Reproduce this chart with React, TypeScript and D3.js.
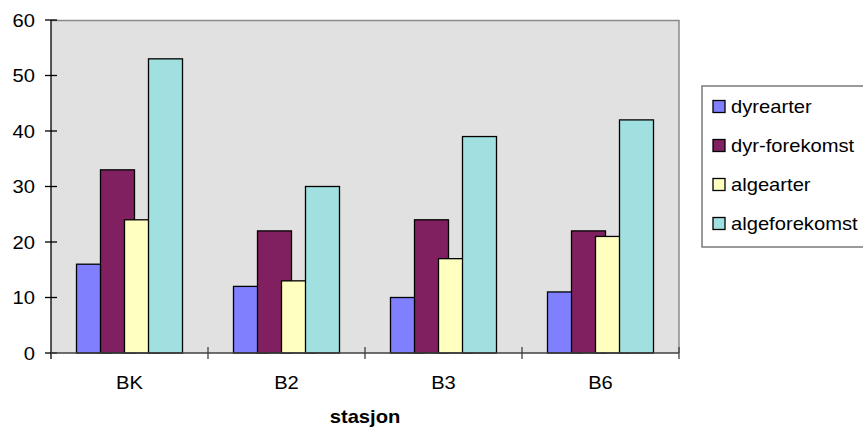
import React from 'react';
import * as d3 from 'd3';

const stations = ['BK', 'B2', 'B3', 'B6'];
const seriesNames = ['dyrearter', 'dyr-forekomst', 'algearter', 'algeforekomst'];
const dyrearter = [16, 12, 10, 11];
const dyrForekomst = [33, 22, 24, 22];
const algearter = [24, 13, 17, 21];
const algeforekomst = [53, 30, 39, 42];
const yTicks = [0, 10, 20, 30, 40, 50, 60];

const seriesValues = [dyrearter, dyrForekomst, algearter, algeforekomst];
const colors = ['#8080FF', '#802060', '#FFFFC0', '#A0E0E0'];

const WIDTH = 863;
const HEIGHT = 430;
const margin = { top: 20, right: 184, bottom: 77, left: 51 };
const FONT = 'Liberation Sans, Arial, sans-serif';

// Excel-style stretched text
function Label(props: {
  x: number;
  y: number;
  anchor?: 'start' | 'middle' | 'end';
  bold?: boolean;
  children: React.ReactNode;
}) {
  return (
    <g transform={`translate(${props.x},${props.y}) scale(1.12,1)`}>
      <text
        x={0}
        y={0}
        fontSize={18}
        fontFamily={FONT}
        fontWeight={props.bold ? 'bold' : 'normal'}
        textAnchor={props.anchor || 'start'}
        fill="#000"
      >
        {props.children}
      </text>
    </g>
  );
}

export default function App() {
  const chartW = WIDTH - margin.left - margin.right;
  const chartH = HEIGHT - margin.top - margin.bottom;

  const x0 = d3.scaleBand().domain(stations).range([0, chartW]).padding(0);
  // bars overlap: step of 24, width 34
  const groupOffset = (x0.bandwidth() - 106) / 2;
  const x1 = d3.scaleBand().domain(seriesNames).range([0, 96]).padding(0);
  const barW = (x1.bandwidth() * 34) / 24;

  const y = d3.scaleLinear().domain([0, 60]).range([chartH, 0]);

  const legendY = d3.scaleBand().domain(seriesNames).range([87, 243]);

  return (
    <svg
      width={WIDTH}
      height={HEIGHT}
      style={{ position: 'absolute', left: 0, top: 0 }}
      viewBox={`0 0 ${WIDTH} ${HEIGHT}`}
    >
      <rect x={0} y={0} width={WIDTH} height={HEIGHT} fill="#fff" />
      <g transform={`translate(${margin.left},${margin.top})`}>
        {/* plot area */}
        <rect x={0} y={0} width={chartW} height={chartH} fill="#E1E1E1" />
        <path
          d={`M0,0.5H${chartW}V${chartH}`}
          fill="none"
          stroke="#8a8a8a"
          strokeWidth={1.5}
        />

        {/* bars */}
        {stations.map((s, i) => (
          <g key={s} transform={`translate(${(x0(s) || 0) + groupOffset},0)`}>
            {seriesNames.map((name, j) => {
              const v = seriesValues[j][i];
              return (
                <rect
                  key={name}
                  x={x1(name) || 0}
                  y={y(v)}
                  width={barW}
                  height={chartH - y(v)}
                  fill={colors[j]}
                  stroke="#000"
                  strokeWidth={1.3}
                />
              );
            })}
          </g>
        ))}

        {/* y axis */}
        <line x1={0} x2={0} y1={0} y2={chartH + 6} stroke="#000" strokeWidth={1.3} />
        {yTicks.map(t => (
          <g key={t}>
            <line x1={-6} x2={6} y1={y(t)} y2={y(t)} stroke="#000" strokeWidth={1.3} />
            <Label x={-16} y={y(t) + 6.5} anchor="end">
              {t}
            </Label>
          </g>
        ))}

        {/* x axis */}
        <line x1={0} x2={chartW} y1={chartH} y2={chartH} stroke="#404040" strokeWidth={1.5} />
        {stations.map((s, i) => (
          <g key={s}>
            {i > 0 ? (
              <line
                x1={x0(s) || 0}
                x2={x0(s) || 0}
                y1={chartH - 6}
                y2={chartH + 6}
                stroke="#404040"
                strokeWidth={1.3}
              />
            ) : null}
            <Label x={(x0(s) || 0) + x0.bandwidth() / 2} y={chartH + 36} anchor="middle">
              {s}
            </Label>
          </g>
        ))}
        <line
          x1={chartW}
          x2={chartW}
          y1={chartH - 6}
          y2={chartH + 6}
          stroke="#404040"
          strokeWidth={1.3}
        />
        <Label x={chartW / 2} y={chartH + 70} anchor="middle" bold>
          stasjon
        </Label>
      </g>

      {/* legend */}
      <rect x={702} y={86} width={170} height={161} fill="#fff" stroke="#7a7a7a" strokeWidth={1.5} />
      {seriesNames.map((name, j) => {
        const cy = (legendY(name) || 0) + legendY.bandwidth() / 2;
        return (
          <g key={name}>
            <rect
              x={713}
              y={cy - 6}
              width={12}
              height={12}
              fill={colors[j]}
              stroke="#000"
              strokeWidth={1.3}
            />
            <Label x={731} y={cy + 6.5}>
              {name}
            </Label>
          </g>
        );
      })}
    </svg>
  );
}
